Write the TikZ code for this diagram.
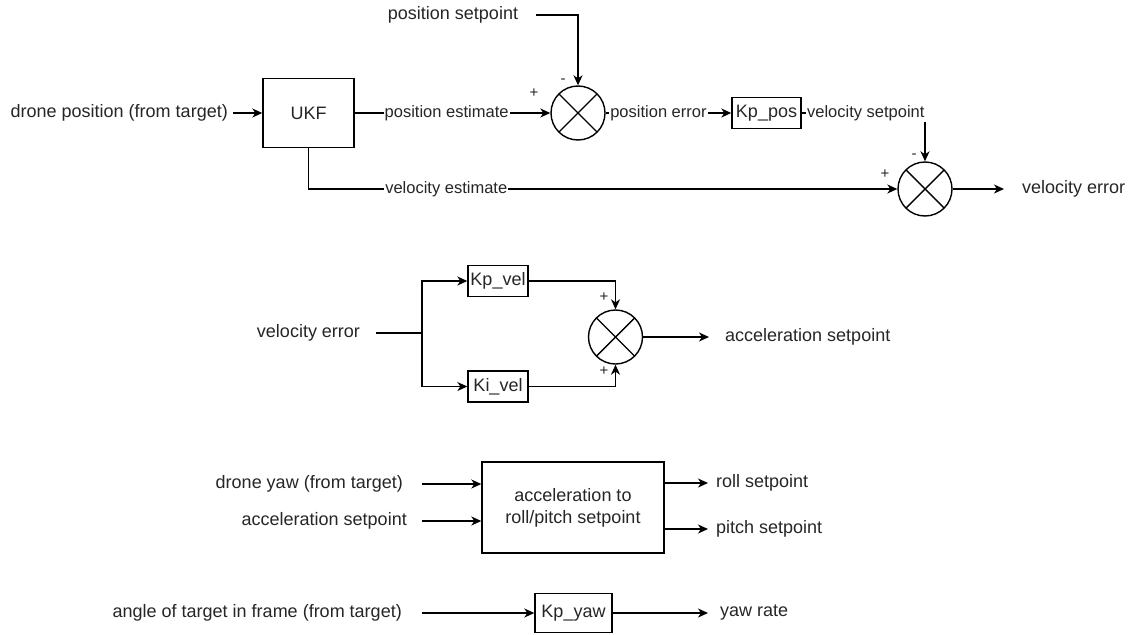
\documentclass[tikz,border=0pt]{standalone}
\usepackage{fontspec}
\setmainfont{Liberation Sans}
\usetikzlibrary{arrows.meta}
\definecolor{txt}{HTML}{262626}
\tikzset{
  wire/.style={line width=1.4pt, draw=black},
  arr/.style={wire, -{Stealth[length=10pt,width=9pt,inset=3pt]}},
  blk/.style={draw, line width=1.4pt, inner sep=0pt, text=txt,
    font=\fontsize{18}{22}\selectfont},
  sumj/.style={circle, draw, line width=1.4pt, minimum size=54pt, inner sep=0pt,
    path picture={\draw[line width=1.4pt]
      (path picture bounding box.north west) -- (path picture bounding box.south east)
      (path picture bounding box.north east) -- (path picture bounding box.south west);}},
  lbl/.style={inner sep=0pt, text=txt, font=\fontsize{18}{22}\selectfont},
  elbl/.style={inner sep=1pt, fill=white, text=txt, font=\fontsize{16.5}{18}\selectfont},
  sgn/.style={inner sep=0pt, text=txt, font=\fontsize{15}{15}\selectfont},
}
\begin{document}
\begin{tikzpicture}[x=1pt, y=-1pt]
\useasboundingbox[fill=white] (0,0) rectangle (1134,634);

% --- position / velocity error loop ---
\node[lbl, anchor=east] (dpos) at (228,113) {drone position (from target)};
\node[blk, minimum width=91pt, minimum height=69pt] (ukf) at (308.5,113) {UKF};
\draw[arr] ([xshift=5pt]dpos.east) -- (ukf.west);

\node[lbl] (pset) at (453,15) {position setpoint};
\node[sumj] (s1) at (578,113) {};
\draw[arr] ([xshift=18pt]pset.east) -| (s1.north);
\draw[arr] (ukf.east) -- node[elbl, pos=0.47] {position estimate} (s1.west);
\node[sgn] (p1) at (534,93) {+};
\node[sgn] (m1) at (563,81) {-};

\node[blk, minimum width=69pt, minimum height=31pt] (kpp) at (766.5,113) {Kp\_pos};
\draw[arr] (s1.east) -- node[elbl, pos=0.42] {position error} (kpp.west);

\node[sumj] (s2) at (925,189) {};
\draw[arr] (kpp.east) -| node[elbl, pos=0.26] {velocity setpoint} (s2.north);
\draw[arr] (ukf.south) |- node[elbl, pos=0.617] {velocity estimate} (s2.west);
\node[sgn] (p2) at (885,174) {+};
\node[sgn] (m2) at (914,156) {-};

\node[lbl, anchor=west] (verr1) at (1022,189) {velocity error};
\draw[arr] (s2.east) -- ([xshift=-18pt]verr1.west);

% --- velocity PI controller ---
\node[lbl] (verr2) at (308.5,333) {velocity error};
\node[blk, minimum width=60pt, minimum height=31pt] (kpv) at (498,281) {Kp\_vel};
\node[blk, minimum width=60pt, minimum height=31pt] (kiv) at (498,386.5) {Ki\_vel};
\coordinate (br) at (422,333);
\draw[wire] ([xshift=16pt]verr2.east) -- (br);
\draw[arr] (br) |- (kpv.west);
\draw[arr] (br) |- (kiv.west);

\node[sumj] (s3) at (615.5,337) {};
\draw[arr] (kpv.east) -| (s3.north);
\draw[arr] (kiv.east) -| (s3.south);
\node[sgn] (p3) at (604,297) {+};
\node[sgn] (p4) at (604,371) {+};

\node[lbl, anchor=west] (aset1) at (725,337) {acceleration setpoint};
\draw[arr] (s3.east) -- ([xshift=-16pt]aset1.west);

% --- attitude setpoint conversion ---
\node[blk, minimum width=182pt, minimum height=91pt, align=center] (a2rp) at (573,507.5)
  {acceleration to\\roll/pitch setpoint};
\node[lbl, anchor=east] (yaw) at (403,484) {drone yaw (from target)};
\node[lbl, anchor=east] (aset2) at (407,521) {acceleration setpoint};
\draw[arr] ([xshift=19pt]yaw.east) -- (a2rp.west |- yaw.east);
\draw[arr] ([xshift=15pt]aset2.east) -- (a2rp.west |- aset2.east);

\node[lbl, anchor=west] (roll) at (716,483) {roll setpoint};
\node[lbl, anchor=west] (pitch) at (716,529) {pitch setpoint};
\draw[arr] (a2rp.east |- roll.west) -- ([xshift=-8pt]roll.west);
\draw[arr] (a2rp.east |- pitch.west) -- ([xshift=-8pt]pitch.west);

% --- yaw controller ---
\node[blk, minimum width=77pt, minimum height=39pt] (kpy) at (573.5,613) {Kp\_yaw};
\node[lbl, anchor=east] (ang) at (402,613) {angle of target in frame (from target)};
\draw[arr] ([xshift=20pt]ang.east) -- (kpy.west);
\node[lbl, anchor=west] (yr) at (720,613) {yaw rate};
\draw[arr] (kpy.east) -- ([xshift=-12pt]yr.west);
\end{tikzpicture}
\end{document}
